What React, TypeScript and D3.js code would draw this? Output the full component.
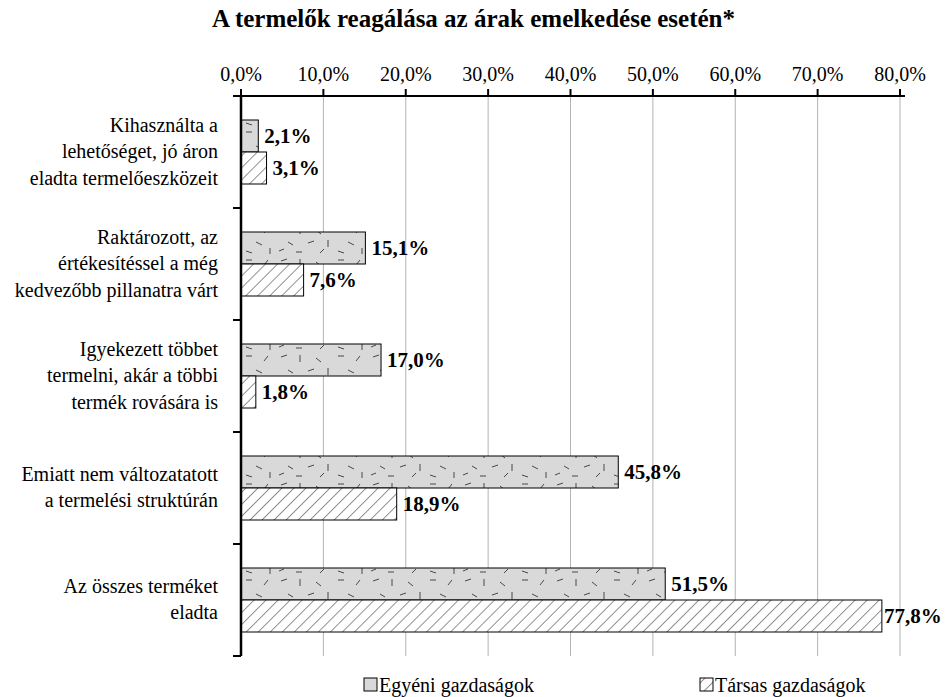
import React from "react";
import * as d3 from "d3";

const categories = [
  ["Kihasználta a", "lehetőséget, jó áron", "eladta termelőeszközeit"],
  ["Raktározott, az", "értékesítéssel a még", "kedvezőbb pillanatra várt"],
  ["Igyekezett többet", "termelni, akár a többi", "termék rovására is"],
  ["Emiatt nem változatatott", "a termelési struktúrán"],
  ["Az összes terméket", "eladta"],
];
const egyeni = [2.1, 15.1, 17.0, 45.8, 51.5];
const tarsas = [3.1, 7.6, 1.8, 18.9, 77.8];
const seriesNames = ["Egyéni gazdaságok", "Társas gazdaságok"];
const ticks = [0, 10, 20, 30, 40, 50, 60, 70, 80];

const W = 947;
const H = 697;
const left = 241;
const right = 900;
const top = 96;
const bottom = 656;
const font = "'Liberation Serif', 'Times New Roman', serif";

const fmt = (v: number) => v.toFixed(1).replace(".", ",") + "%";

// short random-looking strokes for the speckled fill (decoration only)
const dashes: [number, number, number, number][] = [
  [5, 5, 11, 3], [24, 3, 24, 10], [40, 6, 45, 10], [62, 4, 68, 4], [80, 9, 84, 4],
  [12, 18, 17, 21], [32, 19, 38, 17], [52, 16, 52, 23], [72, 18, 78, 21], [3, 27, 8, 25],
  [20, 28, 26, 28], [44, 29, 48, 25], [62, 27, 68, 29], [86, 24, 86, 30],
];

export default function App() {
  const x = d3.scaleLinear().domain([0, 80]).range([left, right]);
  const y0 = d3
    .scaleBand<number>()
    .domain(categories.map((_, i) => i))
    .range([top, bottom]);
  const bh = 32;

  const bars = categories.flatMap((_, i) => {
    const c = (y0(i) as number) + y0.bandwidth() / 2;
    return [
      { v: egyeni[i], y: c - bh, fill: "url(#dots)" },
      { v: tarsas[i], y: c, fill: "url(#hatch)" },
    ];
  });

  return (
    <svg width={W} height={H} style={{ position: "absolute", left: 0, top: 0 }} fontFamily={font}>
      <defs>
        <pattern id="dots" patternUnits="userSpaceOnUse" width="92" height="32">
          <rect width="92" height="32" fill="#d9d9d9" />
          {dashes.map((d, i) => (
            <line key={i} x1={d[0]} y1={d[1]} x2={d[2]} y2={d[3]} stroke="#222" strokeWidth={0.8} />
          ))}
        </pattern>
        <pattern id="hatch" patternUnits="userSpaceOnUse" width="8.5" height="8.5" patternTransform="rotate(45)">
          <rect width="8.5" height="8.5" fill="#fff" />
          <line x1="0" y1="0" x2="0" y2="8.5" stroke="#222" strokeWidth={1} />
        </pattern>
      </defs>

      <text x={W / 2} y={27} textAnchor="middle" fontSize={25} fontWeight="bold">
        A termelők reagálása az árak emelkedése esetén*
      </text>

      {ticks.map((t) => (
        <g key={t}>
          {t > 0 && <line x1={x(t)} x2={x(t)} y1={top} y2={bottom} stroke="#b3b3b3" strokeWidth={1} />}
          <line x1={x(t)} x2={x(t)} y1={top - 7} y2={top} stroke="#000" strokeWidth={2} />
          <text x={x(t)} y={81} textAnchor="middle" fontSize={20}>
            {fmt(t)}
          </text>
        </g>
      ))}

      {bars.map((b, i) => (
        <g key={i}>
          <rect x={x(0)} y={b.y} width={x(b.v) - x(0)} height={bh} fill={b.fill} stroke="#000" strokeWidth={1} />
          <text
            x={Math.min(x(b.v) + 6, 884)}
            y={b.y + bh / 2 + 7}
            fontSize={21}
            fontWeight="bold"
          >
            {fmt(b.v)}
          </text>
        </g>
      ))}

      <line x1={234} x2={905} y1={top} y2={top} stroke="#000" strokeWidth={2} />
      <line x1={left} x2={left} y1={top} y2={bottom} stroke="#000" strokeWidth={2.5} />
      {[...categories.map((_, i) => y0(i) as number), bottom].map((yy, i) => (
        <line key={i} x1={233} x2={left} y1={yy} y2={yy} stroke="#000" strokeWidth={2} />
      ))}

      {categories.map((lines, i) => {
        const c = (y0(i) as number) + y0.bandwidth() / 2;
        const start = c - ((lines.length - 1) * 26.5) / 2;
        return (
          <text key={i} textAnchor="end" fontSize={20}>
            {lines.map((l, j) => (
              <tspan key={j} x={218} y={start + j * 26.5 + 6}>
                {l}
              </tspan>
            ))}
          </text>
        );
      })}

      {seriesNames.map((n, i) => {
        const lx = i === 0 ? 364 : 700;
        return (
          <g key={n}>
            <rect x={lx} y={678} width={13} height={13} fill={i === 0 ? "url(#dots)" : "url(#hatch)"} stroke="#000" strokeWidth={1} />
            <text x={lx + 15} y={692} fontSize={20}>
              {n}
            </text>
          </g>
        );
      })}
    </svg>
  );
}
